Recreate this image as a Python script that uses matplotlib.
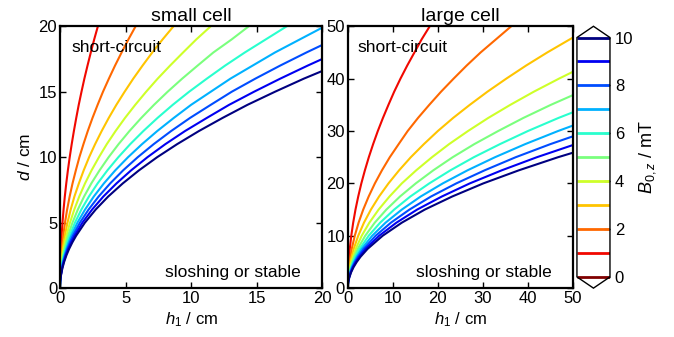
import numpy as np
import matplotlib
matplotlib.use('Agg')
import matplotlib.pyplot as plt
from matplotlib import cm, colors

plt.rcParams['font.family'] = ['Liberation Sans', 'DejaVu Sans']
plt.rcParams['mathtext.fontset'] = 'custom'
plt.rcParams['mathtext.rm'] = 'Liberation Sans'
plt.rcParams['mathtext.it'] = 'Liberation Sans:italic'
plt.rcParams['font.size'] = 12

# B_0,z levels (mT) of the drawn curves
B_LEVELS = [1, 2, 3, 4, 5, 6, 7, 8, 9, 10]
CBAR_LEVELS = [0, 1, 2, 3, 4, 5, 6, 7, 8, 9, 10]

# small cell: d values (cm) and h1 (cm) read for each B level
D_SMALL = [0, 0.25, 0.5, 0.75, 1, 1.5, 2, 2.5, 3, 3.5, 4, 5, 6, 7, 8, 9, 10,
           11, 12, 13, 14, 15, 16, 17, 18, 19, 20]
H1_SMALL = [
    [0, 0.0005, 0.0021, 0.0046, 0.0081, 0.018, 0.032, 0.049, 0.070, 0.095, 0.123, 0.190, 0.272, 0.368,
     0.479, 0.603, 0.741, 0.894, 1.06, 1.24, 1.43, 1.64, 1.86, 2.10, 2.35, 2.61, 2.89],
    [0, 0.0011, 0.0042, 0.0092, 0.016, 0.036, 0.063, 0.098, 0.140, 0.189, 0.246, 0.381, 0.544, 0.737,
     0.957, 1.21, 1.48, 1.79, 2.12, 2.48, 2.87, 3.28, 3.73, 4.20, 4.70, 5.22, 5.77],
    [0, 0.0016, 0.0062, 0.0138, 0.024, 0.054, 0.095, 0.147, 0.210, 0.284, 0.369, 0.571, 0.817, 1.10,
     1.44, 1.81, 2.22, 2.68, 3.18, 3.72, 4.30, 4.93, 5.59, 6.30, 7.04, 7.83, 8.66],
    [0, 0.0021, 0.0083, 0.0185, 0.032, 0.072, 0.126, 0.196, 0.280, 0.378, 0.492, 0.762, 1.09, 1.47,
     1.91, 2.41, 2.97, 3.57, 4.24, 4.96, 5.74, 6.57, 7.45, 8.40, 9.39, 10.4, 11.5],
    [0, 0.0027, 0.0104, 0.0231, 0.041, 0.090, 0.158, 0.245, 0.350, 0.473, 0.615, 0.952, 1.36, 1.84,
     2.39, 3.02, 3.71, 4.47, 5.30, 6.20, 7.17, 8.21, 9.32, 10.5, 11.7, 13.1, 14.4],
    [0, 0.0032, 0.0125, 0.0277, 0.049, 0.108, 0.189, 0.293, 0.420, 0.568, 0.738, 1.14, 1.63, 2.21,
     2.87, 3.62, 4.45, 5.36, 6.36, 7.44, 8.60, 9.85, 11.2, 12.6, 14.1, 15.7, 17.3],
    [0, 0.0037, 0.0146, 0.0323, 0.057, 0.126, 0.221, 0.342, 0.490, 0.662, 0.860, 1.33, 1.91, 2.58,
     3.35, 4.22, 5.19, 6.26, 7.42, 8.68, 10.0, 11.5, 13.0, 14.7, 16.4, 18.3, 20.2],
    [0, 0.0043, 0.0167, 0.0369, 0.065, 0.144, 0.253, 0.391, 0.559, 0.757, 0.983, 1.52, 2.18, 2.95,
     3.83, 4.82, 5.93, 7.15, 8.48, 9.92, 11.5, 13.1, 14.9, 16.8, 18.8, 20.9, 23.1],
    [0, 0.0048, 0.0187, 0.0415, 0.073, 0.162, 0.284, 0.440, 0.629, 0.851, 1.11, 1.71, 2.45, 3.31,
     4.31, 5.43, 6.67, 8.04, 9.54, 11.2, 12.9, 14.8, 16.8, 18.9, 21.1, 23.5, 26.0],
    [0, 0.0054, 0.0208, 0.0461, 0.081, 0.180, 0.316, 0.489, 0.699, 0.946, 1.23, 1.90, 2.72, 3.68,
     4.79, 6.03, 7.41, 8.94, 10.6, 12.4, 14.3, 16.4, 18.6, 21.0, 23.5, 26.1, 28.9],
]

# large cell
D_LARGE = [0, 0.5, 1, 1.5, 2, 3, 4, 5, 6, 7.5, 10, 12.5, 15, 17.5, 20, 22.5, 25,
           27.5, 30, 32.5, 35, 37.5, 40, 42.5, 45, 47.5, 50]
H1_LARGE = [
    [0, 0.0022, 0.0085, 0.019, 0.033, 0.073, 0.128, 0.199, 0.284, 0.440, 0.774, 1.20, 1.71, 2.32,
     3.01, 3.80, 4.67, 5.63, 6.67, 7.81, 9.03, 10.3, 11.7, 13.2, 14.8, 16.4, 18.2],
    [0, 0.0043, 0.017, 0.038, 0.066, 0.146, 0.257, 0.397, 0.568, 0.880, 1.55, 2.40, 3.43, 4.64,
     6.02, 7.59, 9.33, 11.3, 13.3, 15.6, 18.1, 20.7, 23.5, 26.4, 29.5, 32.9, 36.3],
    [0, 0.0065, 0.025, 0.056, 0.099, 0.219, 0.385, 0.596, 0.852, 1.32, 2.32, 3.59, 5.14, 6.95,
     9.04, 11.4, 14.0, 16.9, 20.0, 23.4, 27.1, 31.0, 35.2, 39.6, 44.3, 49.3, 54.5],
    [0, 0.0087, 0.034, 0.075, 0.132, 0.292, 0.513, 0.795, 1.14, 1.76, 3.09, 4.79, 6.85, 9.27,
     12.0, 15.2, 18.7, 22.5, 26.7, 31.2, 36.1, 41.3, 46.9, 52.8, 59.1, 65.7, 72.7],
    [0, 0.011, 0.042, 0.094, 0.165, 0.365, 0.641, 0.994, 1.42, 2.20, 3.87, 5.99, 8.57, 11.6,
     15.1, 19.0, 23.3, 28.1, 33.4, 39.0, 45.1, 51.7, 58.7, 66.1, 73.9, 82.2, 90.9],
    [0, 0.013, 0.051, 0.113, 0.198, 0.438, 0.770, 1.19, 1.70, 2.64, 4.64, 7.19, 10.3, 13.9,
     18.1, 22.8, 28.0, 33.8, 40.0, 46.8, 54.2, 62.0, 70.4, 79.3, 88.6, 98.6, 109],
    [0, 0.015, 0.059, 0.131, 0.231, 0.511, 0.898, 1.39, 1.99, 3.08, 5.42, 8.39, 12.0, 16.2,
     21.1, 26.6, 32.7, 39.4, 46.7, 54.6, 63.2, 72.3, 82.1, 92.5, 103, 115, 127],
    [0, 0.017, 0.068, 0.150, 0.264, 0.584, 1.03, 1.59, 2.27, 3.52, 6.19, 9.58, 13.7, 18.5,
     24.1, 30.4, 37.3, 45.0, 53.4, 62.4, 72.2, 82.6, 93.8, 106, 118, 131, 145],
    [0, 0.020, 0.076, 0.169, 0.297, 0.657, 1.15, 1.79, 2.56, 3.96, 6.97, 10.8, 15.4, 20.9,
     27.1, 34.2, 42.0, 50.6, 60.0, 70.2, 81.2, 93.0, 106, 119, 133, 148, 164],
    [0, 0.022, 0.085, 0.188, 0.330, 0.730, 1.28, 1.99, 2.84, 4.40, 7.74, 12.0, 17.1, 23.2,
     30.1, 38.0, 46.7, 56.3, 66.7, 78.1, 90.3, 103, 117, 132, 148, 164, 182],
]

cmap = plt.get_cmap('jet_r')
norm = colors.Normalize(vmin=0, vmax=10)

fig = plt.figure(figsize=(6.74, 3.37), dpi=100)
ax1 = fig.add_axes([0.089, 0.145, 0.389, 0.777])
ax2 = fig.add_axes([0.516, 0.145, 0.334, 0.777])
cax = fig.add_axes([0.856, 0.145, 0.049, 0.777])


def draw_panel(ax, d, h1_list, xmax, ymax, ticks, title, txt_x2):
    for b, h1 in zip(B_LEVELS, h1_list):
        ax.plot(h1, d, color=cmap(norm(b)), lw=1.5, clip_on=True)
    ax.set_xlim(0, xmax)
    ax.set_ylim(0, ymax)
    ax.set_xticks(ticks)
    ax.set_yticks(ticks)
    ax.tick_params(direction='in', top=True, right=True, length=4, width=1, pad=2,
                   labelsize=12)
    for s in ax.spines.values():
        s.set_linewidth(1.6)
    ax.set_title(title, fontsize=14, pad=4)
    ax.set_xlabel('$h_1$ / cm', labelpad=3, fontsize=12)
    ax.text(0.045, 0.92, 'short-circuit', transform=ax.transAxes, va='center', ha='left',
            fontsize=12.5)
    ax.text(txt_x2, 0.06, 'sloshing or stable', transform=ax.transAxes, va='center', ha='right',
            fontsize=12.5)


draw_panel(ax1, D_SMALL, H1_SMALL, 20, 20, [0, 5, 10, 15, 20], 'small cell', 0.92)
ax1.set_ylabel('$d$ / cm', labelpad=4, fontsize=12.5)
draw_panel(ax2, D_LARGE, H1_LARGE, 50, 50, [0, 10, 20, 30, 40, 50], 'large cell', 0.905)

# colorbar with line levels
white = colors.ListedColormap(['white'])
white.set_under('white')
white.set_over('white')
sm = cm.ScalarMappable(norm=norm, cmap=white)
cbar = fig.colorbar(sm, cax=cax, extend='both', extendfrac=0.047)
cbar.add_lines(CBAR_LEVELS, [cmap(norm(v)) for v in CBAR_LEVELS], [2] * len(CBAR_LEVELS))
cbar.set_ticks([0, 2, 4, 6, 8, 10])
cbar.ax.tick_params(direction='in', length=4, width=1, labelsize=12)
cbar.outline.set_linewidth(1)
cbar.set_label('$B_{0,z}$ / mT', labelpad=3, fontsize=13)

fig.savefig('out.png', dpi=100)
